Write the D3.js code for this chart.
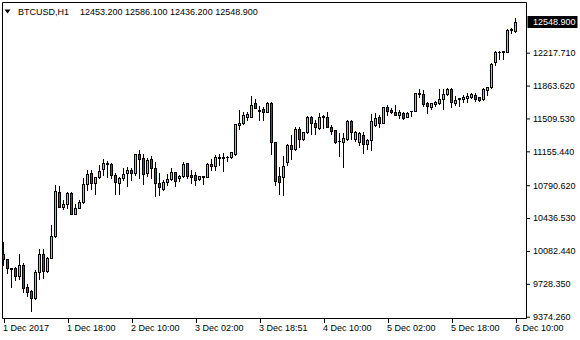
<!DOCTYPE html>
<html><head><meta charset="utf-8">
<script src="https://cdn.jsdelivr.net/npm/d3@7/dist/d3.min.js"></script>
<style>
html,body{margin:0;padding:0;background:#fff;}
svg{display:block;font-family:"Liberation Sans",Arial,sans-serif;}
</style></head>
<body>
<svg id="c" width="580" height="340"></svg>
<script>
// ---- data (H1 bars, BTCUSD) ----
const open  = [10050,9996,9893,9899,9813,9931,9694,9651,9576,9856,10048,9862,10010,10243,10717,10560,10588,10706,10482,10545,
10610,10803,10922,10814,10879,10965,11019,11019,10900,10814,10868,10922,10954,10922,11126,11083,10922,11073,10976,10814,
10750,10825,10857,10933,10868,10890,11030,10900,10900,10857,10890,10879,11019,10997,11090,11083,11094,11091,11126,11439,
11460,11530,11525,11676,11600,11611,11584,11676,11256,10890,10879,11040,11223,11180,11396,11288,11361,11525,11460,11406,
11525,11525,11420,11385,11263,11256,11288,11482,11288,11256,11331,11234,11277,11439,11525,11460,11633,11600,11579,11546,
11568,11528,11586,11593,11778,11773,11676,11636,11665,11673,11716,11769,11832,11679,11724,11716,11726,11744,11762,11737,
11716,11816,11845,12120,12225,12228,12228,12467,12453.2];
const high  = [10179,9999,9904,9909,10050,9953,9726,9662,9877,10103,10105,10017,10362,10792,10782,10631,10722,10712,10588,10631,
10868,10954,10954,10884,11008,11073,11046,11032,10922,10882,10976,10986,10976,11132,11170,11128,11083,11105,11040,10922,
10846,10911,10976,10935,10900,11040,11035,10954,10933,10892,10892,11030,11073,11116,11126,11137,11105,11148,11450,11600,
11579,11579,11751,11719,11643,11638,11687,11687,11261,10986,11105,11234,11331,11414,11417,11363,11532,11536,11493,11568,
11546,11579,11439,11388,11353,11353,11493,11493,11369,11367,11363,11288,11557,11568,11546,11636,11654,11622,11654,11600,
11579,11582,11593,11783,11823,11816,11690,11679,11701,11827,11823,11834,11834,11751,11728,11762,11787,11780,11787,11744,
11841,11851,12103,12236,12236,12238,12470,12480,12586.1];
const low   = [9931,9845,9699,9769,9780,9640,9597,9436,9570,9780,9791,9856,10005,10232,10556,10534,10545,10480,10478,10542,
10599,10739,10750,10696,10868,10900,10884,10868,10696,10696,10846,10782,10846,10900,10868,10803,10895,10868,10674,10685,
10739,10792,10846,10782,10841,10879,10868,10814,10792,10846,10803,10876,10954,10954,11008,10943,11051,11080,11116,11396,
11450,11493,11522,11617,11493,11493,11582,11126,10792,10696,10685,11008,11073,11170,11202,11277,11358,11342,11342,11396,
11406,11417,11342,11245,11105,10990,11277,11285,11270,11223,11137,11180,11170,11431,11417,11457,11546,11568,11546,11514,
11503,11526,11539,11588,11737,11643,11568,11608,11647,11670,11608,11762,11636,11654,11647,11690,11690,11726,11701,11701,
11706,11762,11842,12085,12146,12146,12225,12426,12436.2];
const close = [9996,9899,9899,9813,9931,9683,9640,9576,9856,10050,9866,10006,10243,10728,10560,10588,10706,10482,10545,10610,
10803,10911,10814,10879,10943,11030,11030,10900,10825,10868,10911,10954,10922,11126,11073,10911,11062,10976,10814,10771,
10825,10857,10933,10836,10890,11019,10890,10879,10846,10890,10882,11019,10997,11094,11086,11094,11089,11145,11448,11460,
11546,11557,11654,11622,11590,11584,11673,11256,10836,10825,10997,11223,11180,11396,11288,11361,11525,11460,11417,11525,
11536,11420,11374,11256,11270,11299,11482,11361,11361,11353,11234,11277,11482,11514,11460,11633,11590,11579,11548,11579,
11514,11568,11590,11780,11783,11665,11643,11673,11690,11719,11769,11832,11683,11708,11726,11744,11754,11773,11719,11708,
11827,11845,12096,12228,12228,12231,12462,12470,12548.9];
const timeLabels = ["1 Dec 2017","1 Dec 18:00","2 Dec 10:00","3 Dec 02:00","3 Dec 18:51","4 Dec 10:00","5 Dec 02:00","5 Dec 18:00","6 Dec 10:00"];
const timeIndex  = [0,16,32,48,64,80,96,112,128];
const priceTicks = [12217.71,11863.62,11509.53,11155.44,10790.62,10436.53,10082.44,9728.35,9374.26];
const symbol = "BTCUSD,H1";
const lastPrice = 12548.9;

// ---- layout ----
const svg = d3.select("#c");
const FONT = "9px";
const bullFill = "#93e12c", bearFill = "#e0161b";
const n = close.length;
const x = d3.scaleLinear().domain([0, n - 1]).range([3, 515]);
const y = d3.scaleLinear().domain([9374.26, 12217.71]).range([316.7, 52.7]);
const py = v => Math.round(y(v)) + 0.5;

const bars = d3.range(n).map(i => ({i, o: open[i], h: high[i], l: low[i], c: close[i]}));

// frame
const frame = svg.append("g").attr("stroke", "#000").attr("stroke-width", 1).attr("fill", "none");
frame.append("path").attr("d", "M2.5,35V318.5H526.5V2.5H2.5V35");

// candles
const g = svg.append("g");
g.selectAll("line.wick").data(bars).join("line")
  .attr("x1", d => x(d.i) + 0.5).attr("x2", d => x(d.i) + 0.5)
  .attr("y1", d => py(d.h) - 0.5).attr("y2", d => py(d.l) + 0.5)
  .attr("stroke", "#000").attr("stroke-width", 1);
g.selectAll("rect.body").data(bars).join("rect")
  .attr("x", d => x(d.i) - 0.5)
  .attr("width", 2)
  .attr("y", d => py(Math.max(d.o, d.c)))
  .attr("height", d => Math.max(py(Math.min(d.o, d.c)) - py(Math.max(d.o, d.c)), 0.01))
  .attr("fill", d => d.c >= d.o ? bullFill : bearFill)
  .attr("stroke", "#000").attr("stroke-width", 1);

// bottom axis
const xa = svg.append("g").attr("transform", "translate(1,318)")
  .call(d3.axisBottom(x).tickValues(timeIndex).tickSize(5)
    .tickFormat((d, k) => timeLabels[k]));
xa.select(".domain").remove();
xa.selectAll("text").attr("text-anchor", "start").attr("x", -1.5).attr("y", 7)
  .attr("fill", "#000").style("font-size", FONT).style("font-family", "Liberation Sans, Arial, sans-serif");

// right axis
const ya = svg.append("g").attr("transform", "translate(526,0)")
  .call(d3.axisRight(y).tickValues(priceTicks).tickSize(4).tickFormat(d3.format(".3f")));
ya.select(".domain").remove();
ya.selectAll("text").attr("x", 7).attr("fill", "#000")
  .style("font-size", FONT).style("font-family", "Liberation Sans, Arial, sans-serif");

// current price label
const ly = y(lastPrice);
svg.append("rect").attr("x", 527.5).attr("y", Math.round(ly) - 6).attr("width", 50).attr("height", 12).attr("fill", "#000");
svg.append("text").attr("x", 533).attr("y", ly).attr("dy", "0.35em").attr("fill", "#fff")
  .style("font-size", FONT).text(d3.format(".3f")(lastPrice));

// title
svg.append("path").attr("d", "M4.5,9.5H10.5L7.5,13.5Z").attr("fill", "#000");
svg.append("text").attr("x", 18).attr("y", 15).style("font-size", FONT).attr("fill", "#000").text(symbol);
svg.append("text").attr("x", 80).attr("y", 15).style("font-size", FONT).attr("fill", "#000")
  .text([open[n-1], high[n-1], low[n-1], close[n-1]].map(d3.format(".3f")).join(" "));
</script>
</body></html>
